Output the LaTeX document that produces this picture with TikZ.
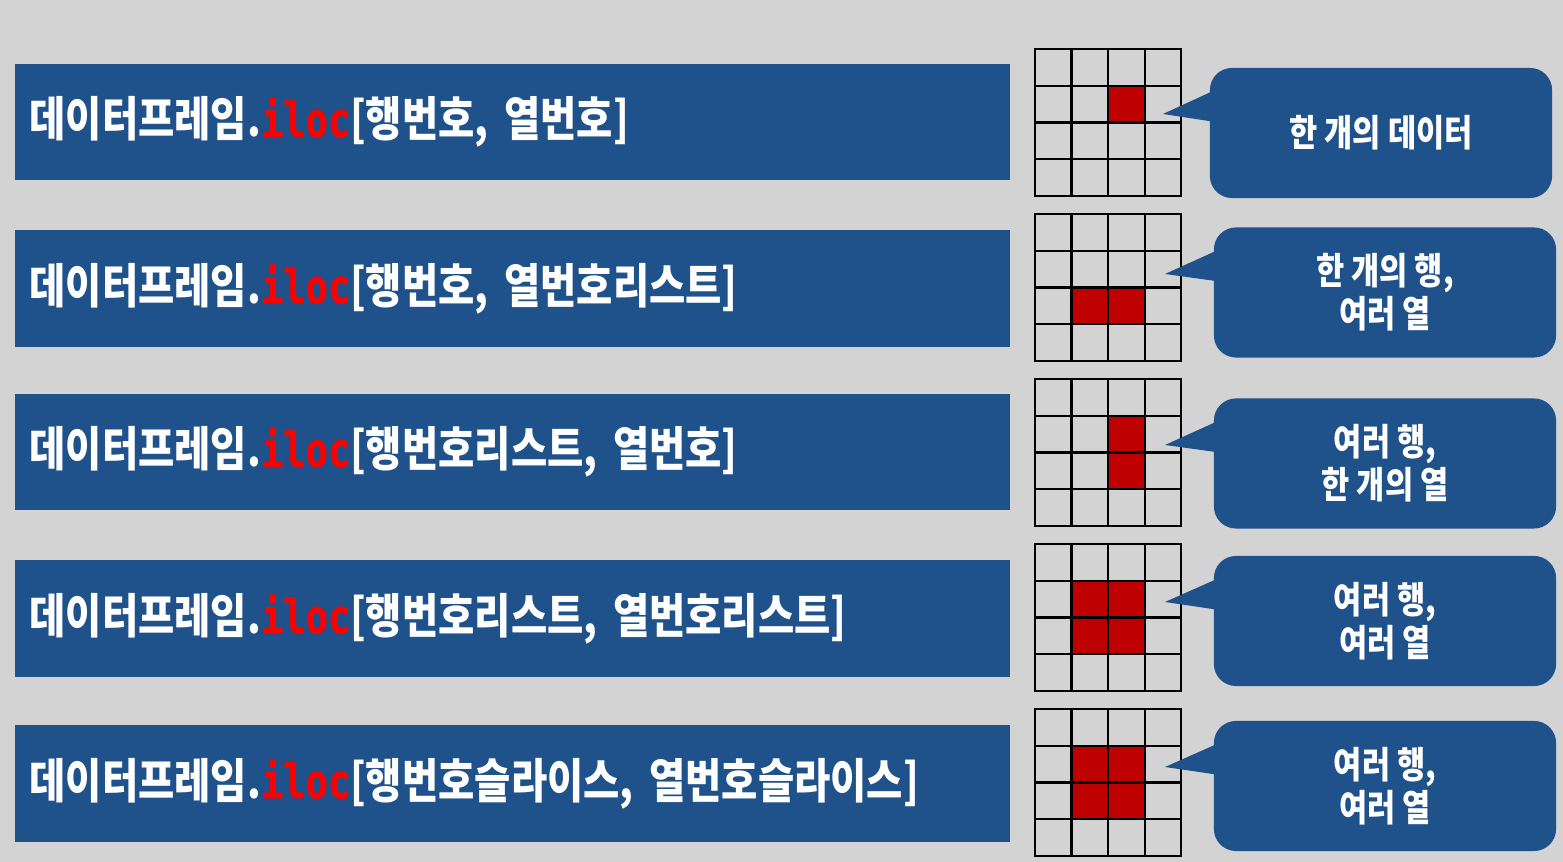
\documentclass[tikz,border=0pt]{standalone}
\usepackage{fontspec}
\setmainfont{Noto Sans CJK KR}[FakeStretch=0.83]
\newfontfamily\codefont{DejaVu Sans Mono Bold}[FakeStretch=0.78, FakeBold=1.2]

\definecolor{bggray}{RGB}{211,211,211}
\definecolor{barblue}{RGB}{31,81,138}
\definecolor{cellred}{RGB}{190,0,0}
\definecolor{ilocred}{RGB}{255,0,0}

\newcommand{\iloc}{{\codefont\mdseries\color{ilocred}iloc}}

\begin{document}
\begin{tikzpicture}[
    x=0.01cm, y=-0.01cm,
    bar/.style={fill=barblue, text=white, minimum height=1.16cm, text width=9.65cm,
        inner xsep=0.15cm, align=left, font=\fontsize{13.5}{15}\selectfont\bfseries},
    bubble/.style={fill=barblue, text=white, rounded corners=0.22cm, minimum width=3.42cm,
        minimum height=1.3cm, align=center, font=\fontsize{10.5}{11}\selectfont\bfseries},
    tail/.style={fill=barblue},
    cell/.style={fill=cellred},
    gridline/.style={line width=0.6pt, line cap=rect}
]

% Background
\fill[bggray] (0,0) rectangle (1563,862);

% Row 1
\node[bar] (bar1) at (512.5,122) {데이터프레임.\iloc[행번호, 열번호]};
\begin{scope}[shift={(1035,49)}, x=0.365cm, y=-0.3675cm]
    \fill[cell] (2,1) rectangle (3,2);
    \foreach \k in {0,...,4} {
        \draw[gridline] (\k,0) -- (\k,4);
        \draw[gridline] (0,\k) -- (4,\k);
    }
\end{scope}
\node[bubble] (bub1) at (1381,133) {한 개의 데이터};
\coordinate (tip1) at (1163,114);
\fill[tail] (tip1) -- ([xshift=0.06cm, yshift=0.43cm]bub1.west) -- ([xshift=0.06cm, yshift=0.11cm]bub1.west) -- cycle;

% Row 2
\node[bar] (bar2) at (512.5,288.5) {데이터프레임.\iloc[행번호, 열번호리스트]};
\begin{scope}[shift={(1035,214)}, x=0.365cm, y=-0.3675cm]
    \fill[cell] (1,2) rectangle (3,3);
    \foreach \k in {0,...,4} {
        \draw[gridline] (\k,0) -- (\k,4);
        \draw[gridline] (0,\k) -- (4,\k);
    }
\end{scope}
\node[bubble] (bub2) at (1385,292.5) {한 개의 행,\\ 여러 열};
\coordinate (tip2) at (1165,274);
\fill[tail] (tip2) -- ([xshift=0.06cm, yshift=0.43cm]bub2.west) -- ([xshift=0.06cm, yshift=0.11cm]bub2.west) -- cycle;

% Row 3
\node[bar] (bar3) at (512.5,452) {데이터프레임.\iloc[행번호리스트, 열번호]};
\begin{scope}[shift={(1035,379)}, x=0.365cm, y=-0.3675cm]
    \fill[cell] (2,1) rectangle (3,3);
    \foreach \k in {0,...,4} {
        \draw[gridline] (\k,0) -- (\k,4);
        \draw[gridline] (0,\k) -- (4,\k);
    }
\end{scope}
\node[bubble] (bub3) at (1385,463.5) {여러 행,\\ 한 개의 열};
\coordinate (tip3) at (1165,445);
\fill[tail] (tip3) -- ([xshift=0.06cm, yshift=0.43cm]bub3.west) -- ([xshift=0.06cm, yshift=0.11cm]bub3.west) -- cycle;

% Row 4
\node[bar] (bar4) at (512.5,618.5) {데이터프레임.\iloc[행번호리스트, 열번호리스트]};
\begin{scope}[shift={(1035,544)}, x=0.365cm, y=-0.3675cm]
    \fill[cell] (1,1) rectangle (3,3);
    \foreach \k in {0,...,4} {
        \draw[gridline] (\k,0) -- (\k,4);
        \draw[gridline] (0,\k) -- (4,\k);
    }
\end{scope}
\node[bubble] (bub4) at (1385,621) {여러 행,\\ 여러 열};
\coordinate (tip4) at (1165,602);
\fill[tail] (tip4) -- ([xshift=0.06cm, yshift=0.43cm]bub4.west) -- ([xshift=0.06cm, yshift=0.11cm]bub4.west) -- cycle;

% Row 5
\node[bar] (bar5) at (512.5,783.5) {데이터프레임.\iloc[행번호슬라이스, 열번호슬라이스]};
\begin{scope}[shift={(1035,709)}, x=0.365cm, y=-0.3675cm]
    \fill[cell] (1,1) rectangle (3,3);
    \foreach \k in {0,...,4} {
        \draw[gridline] (\k,0) -- (\k,4);
        \draw[gridline] (0,\k) -- (4,\k);
    }
\end{scope}
\node[bubble] (bub5) at (1385,786) {여러 행,\\ 여러 열};
\coordinate (tip5) at (1165,767);
\fill[tail] (tip5) -- ([xshift=0.06cm, yshift=0.43cm]bub5.west) -- ([xshift=0.06cm, yshift=0.11cm]bub5.west) -- cycle;

\end{tikzpicture}
\end{document}
